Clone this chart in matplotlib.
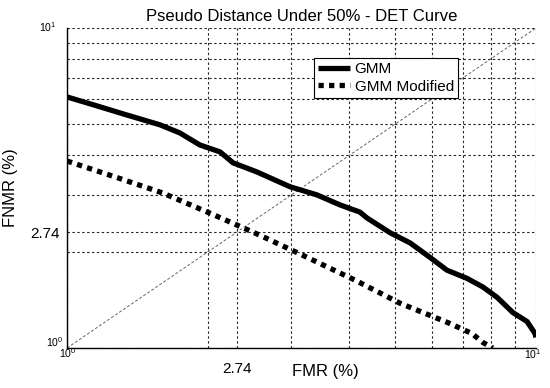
import numpy as np
import matplotlib
matplotlib.use("Agg")
import matplotlib.pyplot as plt
from matplotlib.transforms import offset_copy

plt.rcParams['font.family'] = ['Liberation Sans', 'DejaVu Sans']
plt.rcParams['mathtext.fontset'] = 'custom'
plt.rcParams['mathtext.rm'] = 'Liberation Sans'
plt.rcParams['mathtext.it'] = 'Liberation Sans'

# GMM curve (FMR %, FNMR %)
gmm_fmr = [1.00, 1.14, 1.34, 1.58, 1.74, 1.92, 2.12, 2.26, 2.54, 2.99, 3.41, 3.82, 4.21,
           4.36, 4.89, 5.39, 5.94, 6.46, 7.13, 7.71, 8.26, 8.93, 9.57, 9.95, 10.0]
gmm_fnmr = [6.09, 5.75, 5.35, 4.98, 4.70, 4.31, 4.10, 3.79, 3.55, 3.19, 3.01, 2.80, 2.66,
            2.55, 2.29, 2.13, 1.92, 1.75, 1.65, 1.55, 1.44, 1.29, 1.21, 1.11, 1.08]

# GMM Modified curve
mod_fmr = [1.00, 1.27, 1.60, 2.04, 2.58, 3.25, 4.11, 5.13, 6.49, 7.30, 7.71, 8.09]
mod_fnmr = [3.84, 3.42, 3.05, 2.62, 2.25, 1.92, 1.63, 1.38, 1.20, 1.11, 1.04, 1.00]

# EER tick: placed where the diagonal meets the curve, labelled with the EER value
eer_pos = 2.3
eer_label = "2.74"

fig = plt.figure(figsize=(5.5, 3.88), dpi=100)
ax = fig.add_axes([67/550, 40/388, 469/550, 320/388])

ax.set_xscale('log')
ax.set_yscale('log')
ax.set_xlim(1, 10)
ax.set_ylim(1, 10)

grid_kw = dict(color='0.15', linestyle=(0, (2.2, 2.2)), linewidth=0.8)
ax.set_xticks([1, eer_pos, 10])
ax.set_yticks([1, eer_pos, 10])
ax.set_xticks([2, 3, 4, 5, 6, 7, 8, 9], minor=True)
ax.set_yticks([2, 3, 4, 5, 6, 7, 8, 9], minor=True)
ax.set_xticklabels(['', eer_label, ''])
ax.set_yticklabels(['', eer_label, ''])
ax.xaxis.set_minor_formatter(matplotlib.ticker.NullFormatter())
ax.yaxis.set_minor_formatter(matplotlib.ticker.NullFormatter())
ax.grid(True, which='both', **grid_kw)
ax.tick_params(which='both', length=0, labelsize=11)
ax.tick_params(axis='x', pad=10)
ax.tick_params(axis='y', pad=5)

# decade labels, placed the way the original software put them
xt = ax.get_xaxis_transform()
yt = ax.get_yaxis_transform()
ax.text(1, 0, '$10^0$', fontsize=7.5, ha='center', va='center',
        transform=offset_copy(xt, fig, x=1, y=-5, units='dots'))
ax.text(10, 0, '$10^1$', fontsize=7.5, ha='center', va='center',
        transform=offset_copy(xt, fig, x=-3, y=-6, units='dots'))
ax.text(0, 1, '$10^0$', fontsize=7.5, ha='right', va='center',
        transform=offset_copy(yt, fig, x=-4, y=6, units='dots'))
ax.text(0, 10, '$10^1$', fontsize=7.5, ha='right', va='center',
        transform=offset_copy(yt, fig, x=-11, y=1, units='dots'))

# diagonal
ax.plot([1, 10], [1, 10], color='0.4', linestyle=(0, (3, 2)), linewidth=0.7, zorder=2)

ax.plot(gmm_fmr, gmm_fnmr, color='black', linewidth=3.8, solid_capstyle='butt',
        solid_joinstyle='round', label='GMM', zorder=3)
ax.plot(mod_fmr, mod_fnmr, color='black', linewidth=3.8, linestyle=(0, (1, 1)),
        dash_capstyle='butt', label='GMM Modified', zorder=3)

for s in ['top', 'right']:
    ax.spines[s].set_visible(False)
for s in ['left', 'bottom']:
    ax.spines[s].set_linewidth(1.0)
    ax.spines[s].set_zorder(4)

ax.set_title('Pseudo Distance Under 50% - DET Curve', fontsize=12, pad=5)
ax.set_xlabel('FMR (%)', fontsize=12)
ax.set_ylabel('FNMR (%)', fontsize=12)
ax.xaxis.set_label_coords((325 - 67) / 469, -0.05)
ax.yaxis.set_label_coords(-0.104, 0.5)

leg = ax.legend(loc='upper left', bbox_to_anchor=(0.527, 0.906), fancybox=False,
                edgecolor='black', framealpha=1, fontsize=11, handlelength=2.1,
                handletextpad=0.3, borderpad=0.25, labelspacing=0.25, borderaxespad=0)
leg.get_frame().set_linewidth(0.8)

fig.savefig('out.png', dpi=100)
